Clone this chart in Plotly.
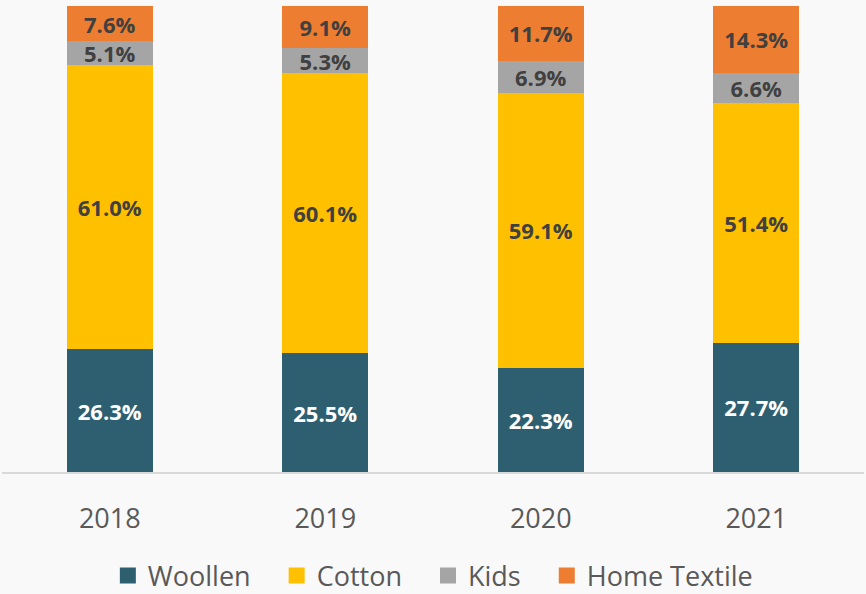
import plotly.graph_objects as go

years = ["2018", "2019", "2020", "2021"]
woollen = [26.3, 25.5, 22.3, 27.7]
cotton = [61.0, 60.1, 59.1, 51.4]
kids = [5.1, 5.3, 6.9, 6.6]
home_textile = [7.6, 9.1, 11.7, 14.3]

series = [
    ("Woollen", woollen, "#2E5F71", "white"),
    ("Cotton", cotton, "#FFC000", "#404040"),
    ("Kids", kids, "#A5A5A5", "#404040"),
    ("Home Textile", home_textile, "#ED7D31", "#404040"),
]

fig = go.Figure()
for name, vals, color, txtcolor in series:
    fig.add_trace(go.Bar(
        x=years, y=vals, name=name,
        marker=dict(color=color, line=dict(width=0)),
        text=["{:.1f}%".format(v) for v in vals],
        textposition="inside", insidetextanchor="middle", textangle=0,
        textfont=dict(family="Open Sans", size=22, color=txtcolor, weight="bold"),
        showlegend=False, hoverinfo="skip",
    ))

# legend entries with bigger square swatches (nbsp padding widens the gaps)
pad = "\u00a0" * 3
for name, vals, color, txtcolor in series:
    fig.add_trace(go.Scatter(
        x=[None], y=[None], mode="markers", name=name + pad,
        marker=dict(symbol="square", size=18, color=color),
    ))

fig.update_layout(
    width=866, height=594,
    barmode="stack", bargap=0.6,
    paper_bgcolor="#f9f9f9", plot_bgcolor="#f9f9f9",
    margin=dict(l=2, r=2, t=6, b=122, autoexpand=False),
    uniformtext=dict(minsize=22, mode="show"),
    font=dict(family="Open Sans", color="#595959"),
    legend=dict(
        orientation="h", x=0.512, xanchor="center", y=-0.223, yanchor="middle",
        font=dict(size=27, color="#595959"), itemwidth=30, traceorder="normal",
        bgcolor="rgba(0,0,0,0)",
    ),
    xaxis=dict(
        showline=True, linecolor="#d9d9d9", linewidth=2,
        tickfont=dict(size=27, color="#595959"), ticklabelstandoff=22,
        showgrid=False, zeroline=False,
    ),
    yaxis=dict(range=[0, 100], visible=False),
)

fig.write_html("out.html", config={"displayModeBar": False},
               post_script="document.body.style.margin='0';")
